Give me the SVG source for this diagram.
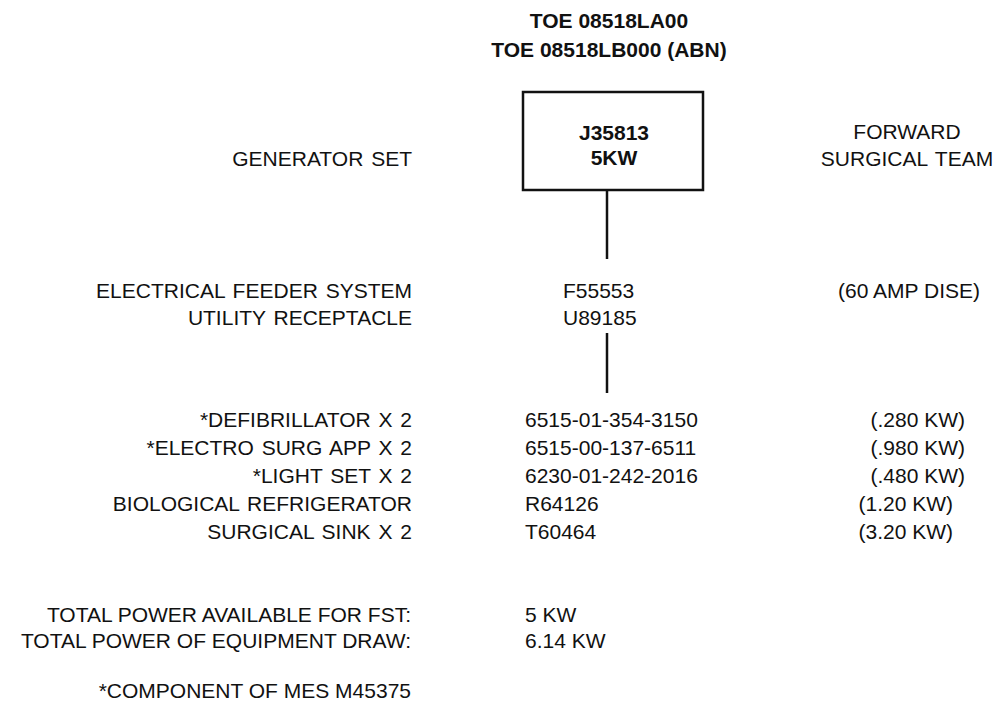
<svg xmlns="http://www.w3.org/2000/svg" width="1000" height="705" viewBox="0 0 1000 705">
<style>
text{font-family:"Liberation Sans",Arial,sans-serif;font-size:21px;fill:#111}
.b{font-weight:bold}
.r{text-anchor:end}
.m{text-anchor:middle}
.ws{word-spacing:2px}
.ln{stroke:#111;stroke-width:2.5;fill:none}
</style>
<rect width="1000" height="705" fill="#fff"/>
<g id="title">
<text class="b m" x="609" y="28">TOE 08518LA00</text>
<text class="b m" x="609" y="57">TOE 08518LB000 (ABN)</text>
</g>
<g id="generator">
<rect class="ln" x="523" y="92" width="180" height="98" stroke-width="2.7"/>
<text class="b m" x="614" y="140">J35813</text>
<text class="b m" x="614" y="165">5KW</text>
</g>
<g id="labels">
<text class="r ws" x="412" y="166">GENERATOR SET</text>
<text class="m ws" x="907" y="139">FORWARD</text>
<text class="m ws" x="907" y="166">SURGICAL TEAM</text>
</g>
<g id="feeder">
<text class="r ws" x="412" y="298">ELECTRICAL FEEDER SYSTEM</text>
<text class="r ws" x="412" y="325">UTILITY RECEPTACLE</text>
<text x="563" y="298">F55553</text>
<text x="563" y="325">U89185</text>
<text class="r" x="980" y="298">(60 AMP DISE)</text>
</g>
<g id="connectors">
<line class="ln" x1="607" y1="191" x2="607" y2="259"/>
<line class="ln" x1="607" y1="333" x2="607" y2="393"/>
</g>
<g id="equipment">
<text class="r ws" x="412" y="427">*DEFIBRILLATOR X 2</text>
<text class="r ws" x="412" y="455">*ELECTRO SURG APP X 2</text>
<text class="r ws" x="412" y="483">*LIGHT SET X 2</text>
<text class="r ws" x="412" y="511">BIOLOGICAL REFRIGERATOR</text>
<text class="r ws" x="412" y="539">SURGICAL SINK X 2</text>
<text x="525" y="427">6515-01-354-3150</text>
<text x="525" y="455">6515-00-137-6511</text>
<text x="525" y="483">6230-01-242-2016</text>
<text x="525" y="511">R64126</text>
<text x="525" y="539">T60464</text>
<text class="r" x="965" y="427">(.280 KW)</text>
<text class="r" x="965" y="455">(.980 KW)</text>
<text class="r" x="965" y="483">(.480 KW)</text>
<text class="r" x="953" y="511">(1.20 KW)</text>
<text class="r" x="953" y="539">(3.20 KW)</text>
</g>
<g id="totals">
<text class="r" x="411" y="622">TOTAL POWER AVAILABLE FOR FST:</text>
<text class="r" x="411" y="648">TOTAL POWER OF EQUIPMENT DRAW:</text>
<text x="525" y="622">5 KW</text>
<text x="525" y="648">6.14 KW</text>
<text class="r" x="411" y="698">*COMPONENT OF MES M45375</text>
</g>
</svg>
